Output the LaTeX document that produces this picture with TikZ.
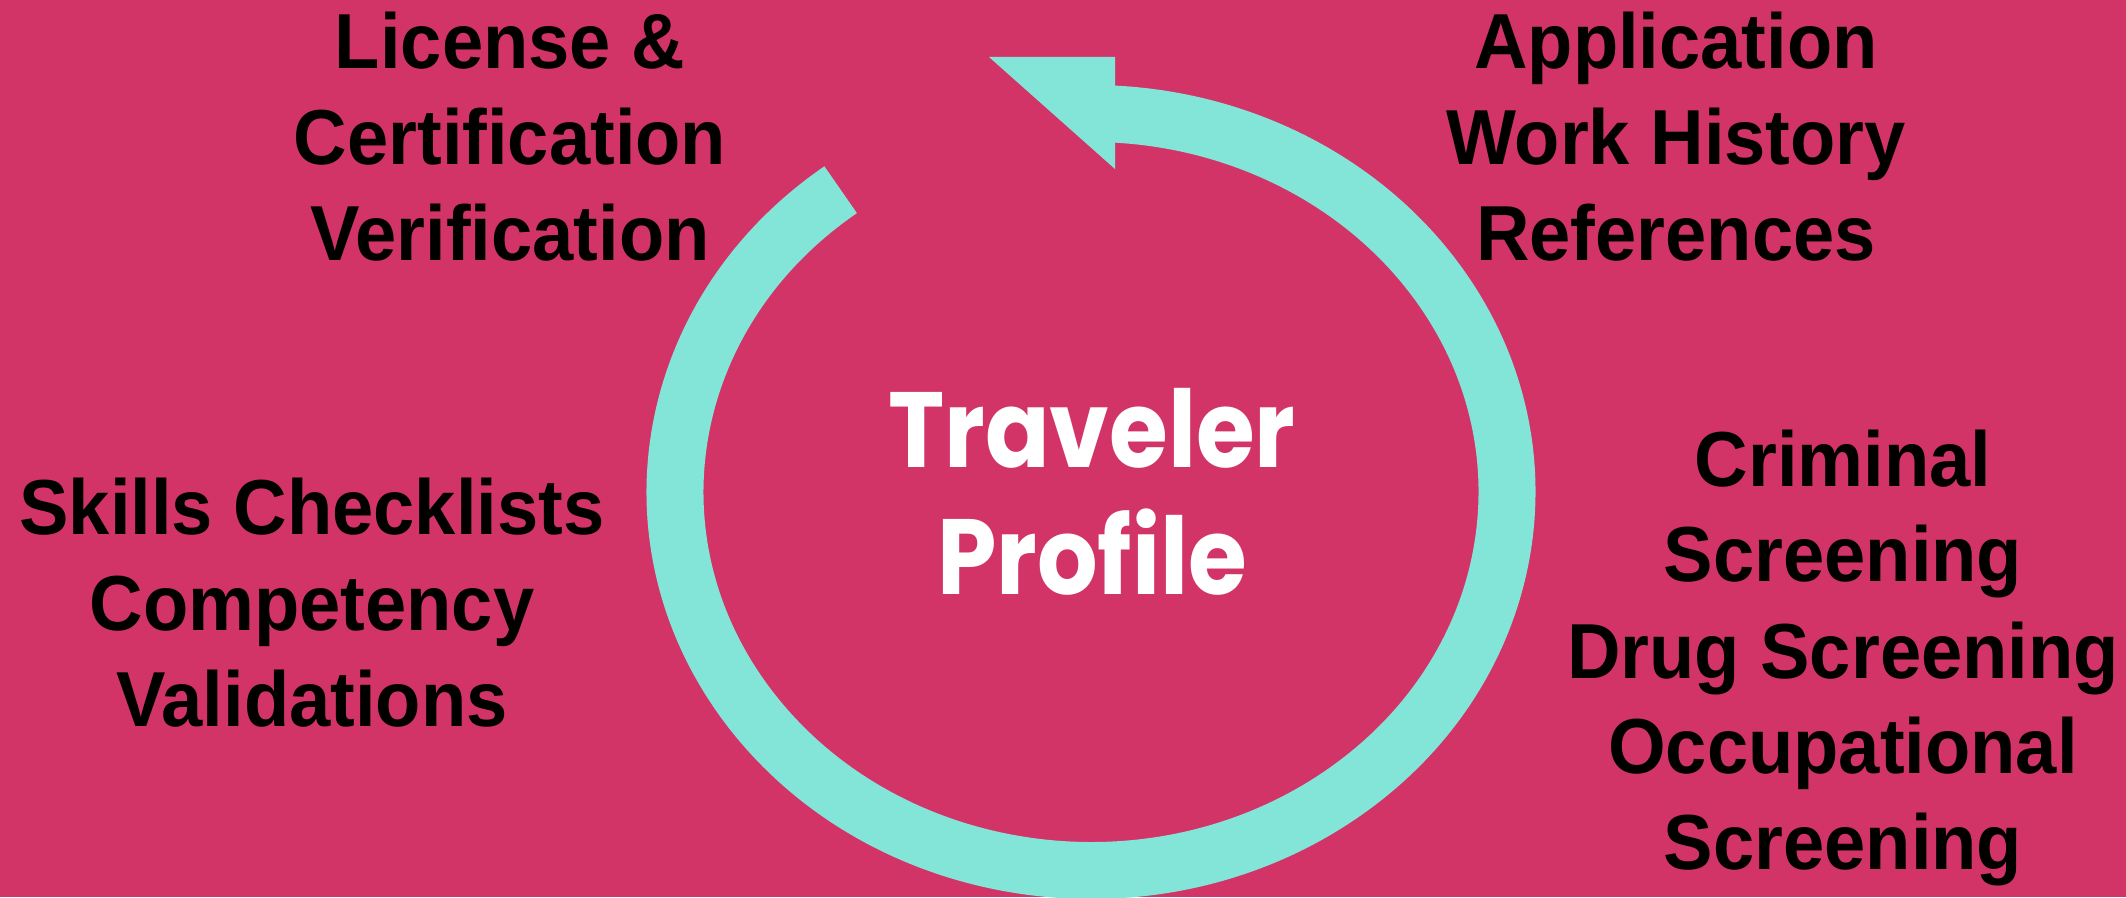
\documentclass[tikz,border=0pt]{standalone}
\usepackage{fontspec}
\setmainfont{Liberation Sans}[FakeStretch=0.95]
\newfontfamily\hubfont{Poppins}[FakeStretch=0.89]
\definecolor{mypink}{HTML}{D23468}
\definecolor{myteal}{HTML}{83E4D8}
\newcommand{\lblfont}{\fontsize{78}{96}\selectfont\bfseries}
\newcommand{\hubtext}{\hubfont\fontsize{107}{127}\selectfont\bfseries}

\begin{document}
\begin{tikzpicture}[x=1pt,y=1pt]
\tikzset{lbl/.style={inner sep=0,anchor=base,align=center,font=\lblfont,text=black}}
\fill[mypink] (0,0) rectangle (2126,897);
\useasboundingbox (0,0) rectangle (2126,897);
\coordinate (hub) at (1091,405);
% the ring and its head
\draw[myteal,line width=57] (hub) ++(127:416 and 378.5)
  arc[start angle=127,end angle=448,x radius=416,y radius=378.5];
\fill[myteal] (989,840) -- (1115,840) -- (1115,728) -- cycle;
% base = last line
\node[inner sep=0,anchor=base,align=center,font=\hubtext,text=white] (hubname) at (1092,302) {Traveler\\Profile};
\node[lbl] (license) at (510,636) {License \&\\Certification\\Verification};
\node[lbl] (application) at (1676,636) {Application\\Work History\\References};
\node[lbl] (skills) at (312,170) {Skills Checklists\\Competency\\Validations};
\node[lbl] (screening) at (1843,27) {Criminal\\Screening\\Drug Screening\\Occupational\\Screening};
\end{tikzpicture}
\end{document}
